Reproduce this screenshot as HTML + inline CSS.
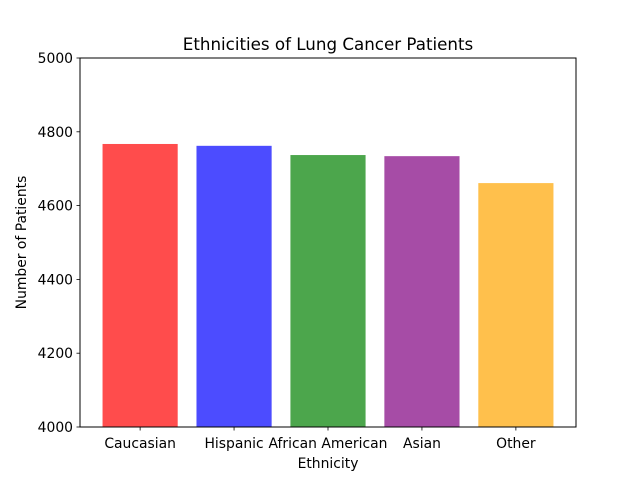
<!DOCTYPE html>
<html><head><meta charset="utf-8"><style>
html,body{margin:0;padding:0;background:#fff;}
svg{display:block;font-family:"DejaVu Sans","Liberation Sans",sans-serif;}
</style></head><body>
<svg id="chart" width="640" height="480" viewBox="0 0 640 480">
<rect width="640" height="480" fill="#fff"/>
<text x="328" y="50" font-size="16.7" text-anchor="middle">Ethnicities of Lung Cancer Patients</text>
<g id="bars"></g>
<g id="yticks"></g>
<g id="xticks"></g>
<rect x="80" y="58" width="496" height="369" fill="none" stroke="#000" stroke-width="1"/>
<text x="328" y="468" font-size="13.9" text-anchor="middle">Ethnicity</text>
<text transform="translate(26,242.5) rotate(-90)" font-size="13.9" text-anchor="middle">Number of Patients</text>
</svg>
<script>
const categories = ["Caucasian","Hispanic","African American","Asian","Other"];
const values = [4767, 4762, 4737, 4734, 4661];
const colors = ["#ff4c4c","#4c4cff","#4ca64c","#a64ca6","#ffc04c"];
const yTickValues = [4000, 4200, 4400, 4600, 4800, 5000];

const NS = "http://www.w3.org/2000/svg";
const L = 80, R = 576, T = 58, B = 427;
const yMin = 4000, yMax = 5000;
const xMin = -0.64, xMax = categories.length - 1 + 0.64;
const xs = v => L + (v - xMin) / (xMax - xMin) * (R - L);
const ys = v => B - (v - yMin) / (yMax - yMin) * (B - T);
function mk(tag, attrs){const e=document.createElementNS(NS,tag);for(const k in attrs)e.setAttribute(k,attrs[k]);return e;}

const gb = document.getElementById('bars');
categories.forEach((c,i)=>{
  const x0 = xs(i-0.4), x1 = xs(i+0.4);
  const r = mk('rect',{x:x0,y:ys(values[i]),width:x1-x0,height:B-ys(values[i]),fill:colors[i]});
  
  
  gb.appendChild(r);
});
const gx = document.getElementById('xticks');
categories.forEach((c,i)=>{
  const x = xs(i);
  const l = mk('line',{x1:x,x2:x,y1:B,y2:B+3.5,stroke:'#000','stroke-width':0.8});
  
  
  gx.appendChild(l);
  const t = mk('text',{x:x,y:B+21,'font-size':13.9,'text-anchor':'middle'});
  t.textContent = c;
  
  
  gx.appendChild(t);
});
const gy = document.getElementById('yticks');
yTickValues.forEach(v=>{
  const y = ys(v);
  const l = mk('line',{x1:L-3.5,x2:L,y1:y,y2:y,stroke:'#000','stroke-width':0.8});
  
  
  gy.appendChild(l);
  const t = mk('text',{x:L-7,y:y+5,'font-size':13.9,'text-anchor':'end'});
  t.textContent = v;
  
  
  gy.appendChild(t);
});
</script>
</body></html>
